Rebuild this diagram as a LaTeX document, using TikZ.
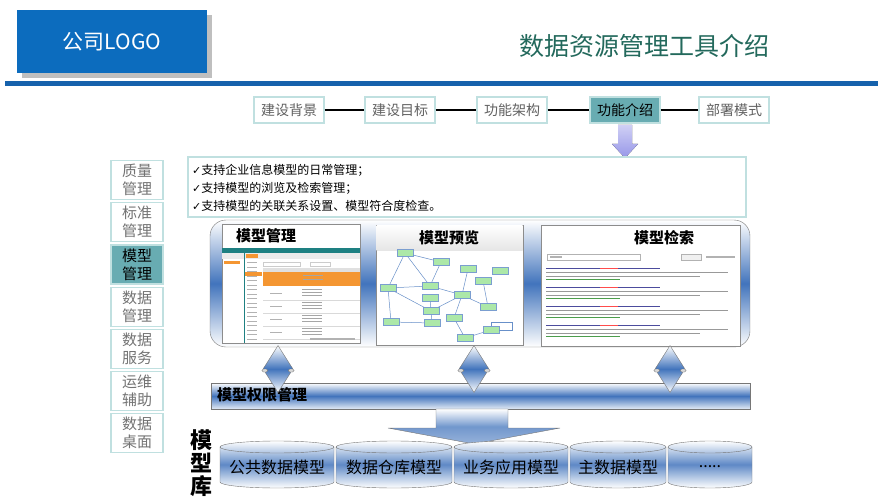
\documentclass[tikz,border=0pt]{standalone}
\usepackage{fontspec}
\setmainfont{Noto Sans CJK SC}
\newfontfamily\tickfont{DejaVu Sans}
\usetikzlibrary{shapes.geometric}
\definecolor{logoblue}{RGB}{12,108,190}
\definecolor{ruleblue}{RGB}{22,98,172}
\definecolor{titlegreen}{RGB}{35,105,92}
\definecolor{tabline}{RGB}{192,224,224}
\definecolor{tabactive}{RGB}{104,172,178}
\definecolor{midblue}{RGB}{66,116,188}
\definecolor{frame}{RGB}{118,118,118}
\definecolor{nodegreen}{RGB}{172,232,168}
\definecolor{appteal}{RGB}{30,128,130}
\definecolor{apporange}{RGB}{244,150,50}
\definecolor{lavender}{RGB}{150,150,232}
\newcommand\moredots{.{}.{}.{}.{}.}
\tikzset{
  navtab/.style={draw=tabline,line width=1.2pt,fill=white,minimum width=70pt,minimum height=26pt,inner sep=0pt,font=\fontsize{14}{14}\selectfont,text=black!62},
  sidetab/.style={draw=tabline,line width=1.2pt,fill=white,minimum width=52pt,minimum height=39pt,inner sep=0pt,align=center,font=\fontsize{15}{18}\selectfont,text=black!55},
  activetab/.style={fill=tabactive,text=black},
  bluegrad/.style={draw=frame,top color=white,bottom color=white,middle color=midblue},
  shotframe/.style={draw=black!45,fill=white},
  shottitle/.style={font=\bfseries\fontsize{15}{15}\selectfont,inner sep=0pt},
  linkbox/.style={draw=midblue!70,fill=nodegreen,minimum width=16pt,minimum height=7pt,inner sep=0pt},
  cyltext/.style={font=\fontsize{16}{16}\selectfont,inner sep=0pt}
}
\begin{document}
\begin{tikzpicture}[x=1pt,y=-1pt]
\useasboundingbox (0,0) rectangle (889,500);
% header
\fill[black!25] (22,15) rectangle (212,78);
\node[fill=logoblue,minimum width=190pt,minimum height=63pt,inner sep=0pt,text=white,font=\fontsize{21}{21}\selectfont] (logo) at (112,41.5) {公司LOGO};
\node[text=titlegreen,font=\fontsize{25}{25}\selectfont] (title) at (644,46) {数据资源管理工具介绍};
\fill[ruleblue] (5,81) rectangle (878,86);
% navigation
\node[navtab] (nav1) at (289,110) {建设背景};
\node[navtab] (nav2) at (400,110) {建设目标};
\node[navtab] (nav3) at (512,110) {功能架构};
\node[navtab,activetab] (nav4) at (625,110) {功能介绍};
\node[navtab] (nav5) at (734,110) {部署模式};
\foreach \a/\b in {nav1/nav2,nav2/nav3,nav3/nav4,nav4/nav5} \draw[line width=1.5pt] (\a) -- (\b);
\coordinate (drop) at (625,158);
\fill[top color=lavender!45,bottom color=lavender] (618,125) -- (632,125) -- (632,144) -- (638,144) -- (drop) -- (612,144) -- (618,144) -- cycle;
% feature list
\node[draw=tabline,line width=1.2pt,minimum width=558pt,minimum height=60pt,inner sep=0pt] (intro) at (467,187) {};
\node[anchor=west,align=left,font=\fontsize{12}{18}\selectfont,inner sep=0pt] (introtext) at (192,188) {{\tickfont\fontsize{11}{18}\selectfont ✓}支持企业信息模型的日常管理；\\{\tickfont\fontsize{11}{18}\selectfont ✓}支持模型的浏览及检索管理；\\{\tickfont\fontsize{11}{18}\selectfont ✓}支持模型的关联关系设置、模型符合度检查。};
% side menu
\foreach \lab [count=\i] in {质量\\管理,标准\\管理,模型\\管理,数据\\管理,数据\\服务,运维\\辅助,数据\\桌面} {
  \ifnum\i=3
    \node[sidetab,activetab] (side\i) at (137,{180+42.2*(\i-1)}) {\lab};
  \else
    \node[sidetab] (side\i) at (137,{180+42.2*(\i-1)}) {\lab};
  \fi
}
% panel with screenshots
\draw[bluegrad,rounded corners=16pt] (210,220) rectangle (750,347);
% shot 1: model management
\node[shotframe,minimum width=138pt,minimum height=119pt,inner sep=0pt] (shot1) at (291,284) {};
\node[shottitle] (shot1title) at (266,236) {模型管理};
\fill[appteal] (222,248) rectangle (360,253);
\fill[black!8] (222,253) rectangle (360,259);
\fill[apporange] (246,254) rectangle (258,258);
\fill[apporange] (224,261) rectangle (240,264);
\draw[appteal,line width=0.8pt] (244,253) -- (244,343);
\fill[apporange] (245,272) rectangle (262,276);
\foreach \k in {0,...,17} \fill[black!30] (247,{262+4.5*\k}) rectangle (257,{263+4.5*\k});
\draw[black!20] (263,262) rectangle (300,266);
\draw[black!20] (310,262) rectangle (330,266);
\fill[black!12] (263,268) rectangle (360,272);
\fill[apporange] (263,272) rectangle (360,286);
\foreach \r in {0,1,2,3} {
  \draw[black!15] (263,{300+13*\r}) -- (360,{300+13*\r});
  \foreach \c in {0,1,2} \fill[black!35] (302,{289+13*\r+3*\c}) rectangle (322,{290+13*\r+3*\c});
  \fill[black!30] (270,{293+13*\r}) rectangle (282,{294+13*\r});
}
\fill[black!35] (303,275) rectangle (323,276);
\fill[black!35] (303,279) rectangle (323,280);
\fill[black!30] (310,338) rectangle (355,340);
% shot 2: model preview
\node[shotframe,minimum width=147pt,minimum height=120pt,inner sep=0pt] (shot2) at (449.5,285) {};
\fill[top color=white,bottom color=black!10] (376.5,225.5) rectangle (522.5,250);
\node[shottitle] (shot2title) at (449,238) {模型预览};
\foreach \n/\px/\py in {ma/405/253,mb/441/262,mc/388/288,md/430/286,me/430/298,mf/431/311,mg/462/295,mh/468/269,mi/500/271,mj/483/281,mk/488/307,ml/454/318,mm/391/322,mn/432/323,mo/491/330,mp/465/338}
  \node[linkbox] (\n) at (\px,\py) {};
\foreach \a/\b in {ma/mb,ma/mc,ma/md,mb/md,mc/md,mc/mf,mc/mm,md/mg,me/mf,mf/mg,mf/mn,mg/mh,mg/mk,mg/ml,ml/mp,mj/mk,mm/mn,mo/mp}
  \draw[midblue!80,line width=0.5pt] (\a) -- (\b);
\draw[midblue!80,line width=0.5pt] (mo.north) |- (512,322) |- (mo.east);
% shot 3: model search
\node[shotframe,minimum width=199pt,minimum height=121pt,inner sep=0pt] (shot3) at (640.5,285.5) {};
\node[shottitle] (shot3title) at (664,238) {模型检索};
\draw[black!30] (547,254) rectangle (640,260);
\fill[black!30] (550,256) rectangle (562,258);
\draw[black!30,fill=black!6] (681,254) rectangle (701,260);
\fill[black!30] (706,256) rectangle (735,258);
\foreach \b in {0,1,2,3} {
  \fill[blue!45!black!70] (546,{268+19*\b}) rectangle (660,{269.2+19*\b});
  \fill[red!70] (600,{268+19*\b}) rectangle (618,{269.2+19*\b});
  \fill[black!40] (546,{272+19*\b}) rectangle (728,{273+19*\b});
  \fill[black!40] (546,{275.5+19*\b}) rectangle (700,{276.5+19*\b});
  \fill[green!45!black!70] (546,{279+19*\b}) rectangle (620,{280+19*\b});
}
% permission layer
\node[draw=frame,top color=white,bottom color=white!85!midblue,middle color=midblue,minimum width=539pt,minimum height=26pt,inner sep=0pt] (perm) at (480.5,396) {};
\node[anchor=west,font=\bfseries\fontsize{15}{15}\selectfont,inner sep=0pt] (permtext) at (perm.west) [xshift=6pt,yshift=1pt] {模型权限管理};
\foreach \dx [count=\i] in {278,474,670} {
  \node[diamond,draw=frame,top color=white,bottom color=white,middle color=midblue,minimum width=30pt,minimum height=47pt,inner sep=0pt] (link\i) at (\dx,369) {};
  \draw[frame,fill=black!15,rounded corners=1.5pt] ([xshift=-1pt]link\i.west) rectangle ++(6,3);
  \draw[frame,fill=black!15,rounded corners=1.5pt] ([xshift=-5pt]link\i.east) rectangle ++(6,3);
}
% big arrow
\coordinate (tip) at (474,444);
\draw[frame,top color=white,bottom color=midblue!55,middle color=midblue!75] (436,409) -- (508,409) -- (508,428) -- (560,428) -- (tip) -- (388,428) -- (436,428) -- cycle;
% model library
\node[font=\bfseries\fontsize{22}{23}\selectfont,align=center,inner sep=0pt] (libtext) at (201,463) {模\\型\\库};
\foreach \xa/\xb/\lab [count=\i] in {220/334/公共数据模型,336/452/数据仓库模型,454/568/业务应用模型,570/666/主数据模型,668/752/\moredots} {
  \draw[frame,top color=white,bottom color=white,middle color=midblue!85] (\xa,447) -- (\xa,482) arc[start angle=180,end angle=360,x radius={(\xb-\xa)/2*1pt},y radius=6pt] -- (\xb,447) arc[start angle=0,end angle=180,x radius={(\xb-\xa)/2*1pt},y radius=6pt] -- cycle;
  \draw[frame] (\xa,447) arc[start angle=180,end angle=360,x radius={(\xb-\xa)/2*1pt},y radius=6pt];
  \node[cyltext] (cyl\i) at ({(\xa+\xb)/2},467) {\lab};
}
\end{tikzpicture}
\end{document}
